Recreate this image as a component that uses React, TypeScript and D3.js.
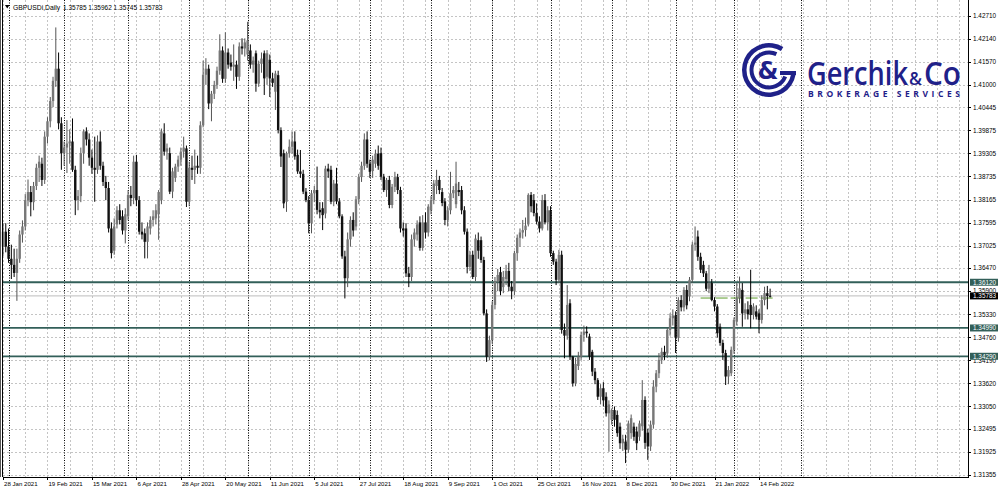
import * as d3 from 'd3'

// daily GBPUSD bars, [open, high, low, close], one per trading day from 28 Jan 2021
const candles: [number, number, number, number][] = [
  [1.3700, 1.3757, 1.3677, 1.3737], [1.3737, 1.3758, 1.3686, 1.3700], [1.3700, 1.3745, 1.3660, 1.3670],
  [1.3670, 1.3705, 1.3620, 1.3655], [1.3655, 1.3695, 1.3625, 1.3635], [1.3635, 1.3695, 1.3566, 1.3670],
  [1.3670, 1.3740, 1.3660, 1.3730], [1.3730, 1.3765, 1.3710, 1.3750], [1.3750, 1.3830, 1.3740, 1.3815],
  [1.3815, 1.3866, 1.3800, 1.3835], [1.3835, 1.3850, 1.3775, 1.3810], [1.3810, 1.3860, 1.3790, 1.3850],
  [1.3850, 1.3905, 1.3840, 1.3895], [1.3895, 1.3925, 1.3860, 1.3910], [1.3905, 1.3920, 1.3850, 1.3865],
  [1.3865, 1.3985, 1.3855, 1.3972], [1.3972, 1.4020, 1.3955, 1.4010], [1.4010, 1.4070, 1.3995, 1.4060],
  [1.4060, 1.4120, 1.4045, 1.4110], [1.4110, 1.4242, 1.4095, 1.4140], [1.4140, 1.4180, 1.3990, 1.4005],
  [1.4005, 1.4020, 1.3890, 1.3931], [1.3931, 1.3960, 1.3900, 1.3945], [1.3945, 1.4013, 1.3882, 1.3955],
  [1.3955, 1.3990, 1.3905, 1.3960], [1.3960, 1.4017, 1.3885, 1.3890], [1.3890, 1.3900, 1.3778, 1.3815],
  [1.3815, 1.3840, 1.3790, 1.3825], [1.3825, 1.3945, 1.3810, 1.3931], [1.3931, 1.3990, 1.3905, 1.3985],
  [1.3985, 1.3995, 1.3950, 1.3965], [1.3965, 1.3980, 1.3900, 1.3920], [1.3920, 1.3940, 1.3880, 1.3895],
  [1.3895, 1.3972, 1.3811, 1.3890], [1.3890, 1.3975, 1.3880, 1.3960], [1.3960, 1.3985, 1.3890, 1.3900],
  [1.3900, 1.3910, 1.3850, 1.3860], [1.3860, 1.3875, 1.3815, 1.3845], [1.3845, 1.3860, 1.3735, 1.3745],
  [1.3745, 1.3760, 1.3671, 1.3684], [1.3690, 1.3770, 1.3680, 1.3750], [1.3755, 1.3800, 1.3745, 1.3790],
  [1.3790, 1.3805, 1.3755, 1.3766], [1.3775, 1.3790, 1.3730, 1.3740], [1.3740, 1.3795, 1.3708, 1.3780],
  [1.3775, 1.3840, 1.3765, 1.3828], [1.3828, 1.3850, 1.3800, 1.3820], [1.3820, 1.3925, 1.3805, 1.3910],
  [1.3910, 1.3927, 1.3800, 1.3815], [1.3815, 1.3825, 1.3730, 1.3737], [1.3737, 1.3760, 1.3718, 1.3730],
  [1.3733, 1.3745, 1.3671, 1.3712], [1.3712, 1.3760, 1.3671, 1.3750], [1.3745, 1.3775, 1.3730, 1.3766],
  [1.3766, 1.3790, 1.3750, 1.3775], [1.3770, 1.3805, 1.3755, 1.3790], [1.3780, 1.3840, 1.3717, 1.3835],
  [1.3815, 1.3992, 1.3805, 1.3985], [1.3980, 1.4005, 1.3925, 1.3935], [1.3935, 1.3955, 1.3915, 1.3943],
  [1.3931, 1.3945, 1.3830, 1.3836], [1.3836, 1.3895, 1.3820, 1.3886], [1.3870, 1.3905, 1.3860, 1.3898],
  [1.3898, 1.3925, 1.3885, 1.3915], [1.3915, 1.3945, 1.3900, 1.3935], [1.3935, 1.3972, 1.3920, 1.3945],
  [1.3943, 1.3950, 1.3798, 1.3811], [1.3811, 1.3910, 1.3800, 1.3895], [1.3895, 1.3925, 1.3865, 1.3890],
  [1.3890, 1.3940, 1.3855, 1.3900], [1.3900, 1.3925, 1.3880, 1.3895], [1.3895, 1.4010, 1.3880, 1.4000],
  [1.4000, 1.4160, 1.3995, 1.4125], [1.4125, 1.4166, 1.4100, 1.4140], [1.4140, 1.4150, 1.4040, 1.4054],
  [1.4054, 1.4085, 1.4010, 1.4078], [1.4078, 1.4110, 1.4065, 1.4100], [1.4100, 1.4145, 1.4090, 1.4135],
  [1.4135, 1.4225, 1.4125, 1.4185], [1.4185, 1.4195, 1.4105, 1.4115], [1.4115, 1.4230, 1.4105, 1.4180],
  [1.4180, 1.4190, 1.4140, 1.4150], [1.4155, 1.4175, 1.4135, 1.4145], [1.4145, 1.4200, 1.4110, 1.4150],
  [1.4150, 1.4160, 1.4090, 1.4120], [1.4120, 1.4205, 1.4110, 1.4195], [1.4195, 1.4215, 1.4175, 1.4190],
  [1.4190, 1.4215, 1.4170, 1.4205], [1.4175, 1.4256, 1.4160, 1.4210], [1.4185, 1.4200, 1.4140, 1.4150],
  [1.4150, 1.4170, 1.4130, 1.4160], [1.4178, 1.4185, 1.4083, 1.4103], [1.4103, 1.4160, 1.4095, 1.4152],
  [1.4152, 1.4180, 1.4130, 1.4165], [1.4178, 1.4185, 1.4075, 1.4116], [1.4120, 1.4186, 1.4100, 1.4178],
  [1.4162, 1.4175, 1.4070, 1.4116], [1.4116, 1.4130, 1.4095, 1.4105], [1.4083, 1.4135, 1.4038, 1.4128],
  [1.4124, 1.4135, 1.3980, 1.3988], [1.3988, 1.3995, 1.3897, 1.3923], [1.3931, 1.3940, 1.3795, 1.3807],
  [1.3811, 1.3935, 1.3786, 1.3931], [1.3931, 1.3965, 1.3920, 1.3947], [1.3947, 1.3985, 1.3930, 1.3960],
  [1.3960, 1.3985, 1.3915, 1.3923], [1.3927, 1.3940, 1.3880, 1.3886], [1.3886, 1.3939, 1.3870, 1.3880],
  [1.3880, 1.3890, 1.3830, 1.3836], [1.3836, 1.3845, 1.3810, 1.3815], [1.3815, 1.3825, 1.3733, 1.3758],
  [1.3758, 1.3840, 1.3733, 1.3832], [1.3832, 1.3850, 1.3810, 1.3840], [1.3840, 1.3898, 1.3780, 1.3791],
  [1.3791, 1.3810, 1.3770, 1.3785], [1.3795, 1.3810, 1.3741, 1.3778], [1.3782, 1.3900, 1.3770, 1.3893],
  [1.3893, 1.3905, 1.3870, 1.3886], [1.3890, 1.3900, 1.3805, 1.3811], [1.3811, 1.3865, 1.3800, 1.3856],
  [1.3856, 1.3895, 1.3805, 1.3812], [1.3812, 1.3820, 1.3770, 1.3775], [1.3775, 1.3780, 1.3670, 1.3676],
  [1.3676, 1.3690, 1.3572, 1.3622], [1.3622, 1.3735, 1.3600, 1.3718], [1.3718, 1.3775, 1.3700, 1.3766],
  [1.3766, 1.3785, 1.3725, 1.3740], [1.3750, 1.3825, 1.3740, 1.3817], [1.3817, 1.3880, 1.3805, 1.3872],
  [1.3872, 1.3910, 1.3860, 1.3900], [1.3900, 1.3980, 1.3890, 1.3965], [1.3965, 1.3985, 1.3895, 1.3905],
  [1.3905, 1.3915, 1.3870, 1.3885], [1.3887, 1.3925, 1.3870, 1.3915], [1.3905, 1.3940, 1.3895, 1.3930],
  [1.3930, 1.3950, 1.3890, 1.3900], [1.3931, 1.3945, 1.3865, 1.3873], [1.3873, 1.3880, 1.3835, 1.3840],
  [1.3840, 1.3870, 1.3823, 1.3865], [1.3865, 1.3875, 1.3795, 1.3803], [1.3803, 1.3855, 1.3795, 1.3848],
  [1.3848, 1.3885, 1.3835, 1.3872], [1.3872, 1.3880, 1.3830, 1.3840], [1.3840, 1.3848, 1.3735, 1.3745],
  [1.3745, 1.3760, 1.3725, 1.3740], [1.3745, 1.3758, 1.3625, 1.3634], [1.3634, 1.3650, 1.3600, 1.3625],
  [1.3625, 1.3730, 1.3615, 1.3718], [1.3718, 1.3745, 1.3700, 1.3735], [1.3730, 1.3765, 1.3715, 1.3755],
  [1.3760, 1.3775, 1.3690, 1.3697], [1.3697, 1.3778, 1.3690, 1.3760], [1.3760, 1.3785, 1.3720, 1.3735],
  [1.3735, 1.3805, 1.3725, 1.3799], [1.3790, 1.3825, 1.3780, 1.3815], [1.3815, 1.3865, 1.3805, 1.3856],
  [1.3850, 1.3890, 1.3830, 1.3865], [1.3865, 1.3875, 1.3830, 1.3840], [1.3835, 1.3845, 1.3800, 1.3808],
  [1.3812, 1.3820, 1.3753, 1.3766], [1.3766, 1.3800, 1.3750, 1.3790], [1.3790, 1.3885, 1.3780, 1.3832],
  [1.3832, 1.3850, 1.3820, 1.3840], [1.3805, 1.3910, 1.3795, 1.3856], [1.3840, 1.3860, 1.3825, 1.3835],
  [1.3840, 1.3850, 1.3780, 1.3790], [1.3790, 1.3800, 1.3730, 1.3737], [1.3737, 1.3745, 1.3634, 1.3650],
  [1.3650, 1.3690, 1.3640, 1.3680], [1.3680, 1.3690, 1.3620, 1.3625], [1.3625, 1.3730, 1.3615, 1.3720],
  [1.3716, 1.3735, 1.3670, 1.3690], [1.3716, 1.3725, 1.3660, 1.3667], [1.3667, 1.3675, 1.3530, 1.3535],
  [1.3535, 1.3545, 1.3415, 1.3428], [1.3428, 1.3480, 1.3419, 1.3469], [1.3469, 1.3565, 1.3460, 1.3556],
  [1.3556, 1.3625, 1.3545, 1.3614], [1.3614, 1.3645, 1.3590, 1.3630], [1.3637, 1.3650, 1.3580, 1.3590],
  [1.3600, 1.3640, 1.3585, 1.3625], [1.3620, 1.3655, 1.3605, 1.3640], [1.3640, 1.3660, 1.3590, 1.3601],
  [1.3601, 1.3615, 1.3570, 1.3590], [1.3590, 1.3690, 1.3580, 1.3684], [1.3684, 1.3730, 1.3665, 1.3722],
  [1.3722, 1.3745, 1.3700, 1.3735], [1.3735, 1.3766, 1.3720, 1.3741], [1.3741, 1.3772, 1.3725, 1.3752],
  [1.3755, 1.3832, 1.3750, 1.3828], [1.3828, 1.3835, 1.3785, 1.3800], [1.3815, 1.3830, 1.3775, 1.3783],
  [1.3783, 1.3807, 1.3755, 1.3762], [1.3762, 1.3775, 1.3735, 1.3745], [1.3745, 1.3828, 1.3740, 1.3815],
  [1.3815, 1.3830, 1.3755, 1.3760], [1.3760, 1.3800, 1.3740, 1.3790], [1.3790, 1.3800, 1.3675, 1.3684],
  [1.3684, 1.3690, 1.3655, 1.3663], [1.3663, 1.3670, 1.3605, 1.3618], [1.3618, 1.3692, 1.3610, 1.3680],
  [1.3680, 1.3690, 1.3485, 1.3494], [1.3494, 1.3510, 1.3424, 1.3480], [1.3480, 1.3605, 1.3470, 1.3556],
  [1.3560, 1.3570, 1.3420, 1.3428], [1.3428, 1.3430, 1.3354, 1.3362], [1.3362, 1.3425, 1.3355, 1.3410],
  [1.3405, 1.3440, 1.3395, 1.3428], [1.3428, 1.3490, 1.3420, 1.3482], [1.3482, 1.3505, 1.3465, 1.3490],
  [1.3490, 1.3503, 1.3475, 1.3486], [1.3478, 1.3485, 1.3420, 1.3428], [1.3440, 1.3445, 1.3380, 1.3391],
  [1.3391, 1.3400, 1.3360, 1.3370], [1.3370, 1.3375, 1.3321, 1.3329], [1.3329, 1.3360, 1.3310, 1.3350],
  [1.3350, 1.3365, 1.3305, 1.3320], [1.3329, 1.3340, 1.3280, 1.3288], [1.3288, 1.3320, 1.3193, 1.3310],
  [1.3272, 1.3300, 1.3260, 1.3296], [1.3296, 1.3305, 1.3255, 1.3272], [1.3284, 1.3295, 1.3230, 1.3239],
  [1.3255, 1.3265, 1.3200, 1.3214], [1.3214, 1.3235, 1.3195, 1.3225], [1.3218, 1.3235, 1.3165, 1.3198],
  [1.3198, 1.3270, 1.3190, 1.3263], [1.3239, 1.3285, 1.3225, 1.3276], [1.3255, 1.3265, 1.3220, 1.3230],
  [1.3243, 1.3255, 1.3197, 1.3214], [1.3230, 1.3270, 1.3220, 1.3263], [1.3256, 1.3370, 1.3245, 1.3321],
  [1.3321, 1.3330, 1.3200, 1.3215], [1.3240, 1.3250, 1.3173, 1.3206], [1.3206, 1.3270, 1.3195, 1.3260],
  [1.3260, 1.3370, 1.3250, 1.3354], [1.3354, 1.3395, 1.3340, 1.3387], [1.3387, 1.3437, 1.3375, 1.3420],
  [1.3420, 1.3450, 1.3410, 1.3440], [1.3440, 1.3455, 1.3420, 1.3432], [1.3436, 1.3500, 1.3425, 1.3494],
  [1.3494, 1.3535, 1.3480, 1.3523], [1.3523, 1.3545, 1.3505, 1.3530], [1.3530, 1.3540, 1.3437, 1.3475],
  [1.3475, 1.3575, 1.3465, 1.3568], [1.3568, 1.3580, 1.3540, 1.3550], [1.3550, 1.3600, 1.3540, 1.3593],
  [1.3593, 1.3605, 1.3545, 1.3555], [1.3577, 1.3625, 1.3565, 1.3618], [1.3618, 1.3712, 1.3610, 1.3705],
  [1.3705, 1.3750, 1.3690, 1.3710], [1.3725, 1.3740, 1.3665, 1.3675], [1.3675, 1.3685, 1.3635, 1.3643],
  [1.3655, 1.3665, 1.3625, 1.3634], [1.3634, 1.3640, 1.3590, 1.3596], [1.3596, 1.3655, 1.3585, 1.3610],
  [1.3610, 1.3620, 1.3565, 1.3568], [1.3568, 1.3575, 1.3540, 1.3552], [1.3552, 1.3558, 1.3475, 1.3486],
  [1.3502, 1.3510, 1.3455, 1.3462], [1.3462, 1.3470, 1.3420, 1.3437], [1.3437, 1.3445, 1.3358, 1.3379],
  [1.3379, 1.3405, 1.3360, 1.3395], [1.3387, 1.3453, 1.3380, 1.3445], [1.3445, 1.3525, 1.3435, 1.3519],
  [1.3515, 1.3610, 1.3505, 1.3573], [1.3573, 1.3626, 1.3560, 1.3597], [1.3593, 1.3610, 1.3502, 1.3535],
  [1.3535, 1.3560, 1.3520, 1.3545], [1.3545, 1.3565, 1.3520, 1.3533], [1.3556, 1.3643, 1.3498, 1.3531],
  [1.3531, 1.3560, 1.3520, 1.3552], [1.3540, 1.3555, 1.3520, 1.3527], [1.3535, 1.3545, 1.3486, 1.3519],
  [1.3519, 1.3580, 1.3510, 1.3568], [1.3568, 1.3601, 1.3555, 1.3585], [1.3585, 1.3603, 1.3545, 1.3578],
  [1.35785, 1.35962, 1.35745, 1.35783],
]

const priceTicks = [
  1.42710, 1.42140, 1.41570, 1.41000, 1.40445, 1.39875, 1.39305, 1.38735, 1.38165, 1.37595, 1.37025,
  1.36470, 1.35900, 1.35330, 1.34760, 1.34190, 1.33620, 1.33050, 1.32495, 1.31925, 1.31355,
]
const dateLabels = [
  '28 Jan 2021', '19 Feb 2021', '15 Mar 2021', '6 Apr 2021', '28 Apr 2021', '20 May 2021', '11 Jun 2021',
  '5 Jul 2021', '27 Jul 2021', '18 Aug 2021', '9 Sep 2021', '1 Oct 2021', '25 Oct 2021', '16 Nov 2021',
  '8 Dec 2021', '30 Dec 2021', '21 Jan 2022', '14 Feb 2022',
]
const dateLabelBars = [0, 16, 32, 48, 64, 80, 96, 112, 128, 144, 160, 176, 192, 208, 224, 240, 256, 272]
const monthStartBars = [2, 22, 45, 67, 88, 110, 132, 154, 176, 197, 219, 242, 263, 287]
const levels = [1.3612, 1.3499, 1.3429]
const levelLabels = ['1.36120', '1.34990', '1.34290']
const bidPrice = 1.35783
const bidLabel = '1.35783'
const greenSegment = { from: 251, to: 278, price: 1.3573 }
const symbolTitle = 'GBPUSDi,Daily'
const headerValues = '1.35785 1.35962 1.35745 1.35783'

const W = 1000
const H = 491
const LEFT = 3
const RIGHT = 968
const BOTTOM = 477
const FONT = 'Liberation Sans, Arial, sans-serif'
const TEAL = '#325f59'
const BLUE = '#1f2189'

const x = d3.scaleLinear().domain([0, 272]).range([3, 759])
const y = d3.scaleLinear().domain([1.31355, 1.4271]).range([475, 15.7])

const snap = (v: number) => Math.round(v) + 0.5

function Logo() {
  const cx = 769
  const cy = 70
  const deg = Math.PI / 180
  const arc = d3.arc<any>()
  const outer = arc({ innerRadius: 22.5, outerRadius: 27, startAngle: 100 * deg, endAngle: 392 * deg }) as string
  const inner = arc({ innerRadius: 15.5, outerRadius: 19.5, startAngle: 112 * deg, endAngle: 385 * deg }) as string
  return (
    <g fill={BLUE}>
      <g transform={`translate(${cx},${cy})`}>
        <path d={outer} />
        <path d={inner} />
        <rect x={11} y={1} width={16} height={4} />
        <text x={-1} y={9} textAnchor="middle" fontFamily="DejaVu Sans, sans-serif" fontWeight={700} fontSize={24}>&amp;</text>
      </g>
      <text y={85} fontFamily="Open Sans, Noto Sans, sans-serif" fontWeight={600} fontSize={32}>
        <tspan x={807} textLength={101} lengthAdjust="spacingAndGlyphs">Gerchik</tspan>
        <tspan x={909} fontSize={18} textLength={13} lengthAdjust="spacingAndGlyphs">&amp;</tspan>
        <tspan x={924} textLength={37} lengthAdjust="spacingAndGlyphs">Co</tspan>
      </text>
      <text x={808} y={97} fontFamily="Open Sans, Noto Sans, sans-serif" fontWeight={700} fontSize={8.5}
        textLength={152} lengthAdjust="spacing">BROKERAGE SERVICES</text>
    </g>
  )
}

export default function App() {
  const gridBars = d3.range(0, 360, 8).filter((b) => x(b) < RIGHT - 2)

  return (
    <svg width={W} height={H} style={{ position: 'absolute', left: 0, top: 0, background: '#fff' }}
      fontFamily={FONT}>
      <rect width={W} height={H} fill="#fff" />

      {/* light grid */}
      {priceTicks.map((p) => (
        <line key={'h' + p} x1={LEFT} x2={RIGHT} y1={snap(y(p))} y2={snap(y(p))}
          stroke="#c4c4c4" strokeDasharray="2,2" />
      ))}
      {gridBars.map((b) => (
        <line key={'v' + b} x1={snap(x(b))} x2={snap(x(b))} y1={0} y2={BOTTOM}
          stroke="#c4c4c4" strokeDasharray="2,2" />
      ))}

      {/* month separators */}
      {monthStartBars.map((b) => (
        <line key={'m' + b} x1={snap(x(b))} x2={snap(x(b))} y1={0} y2={BOTTOM}
          stroke="#000" strokeDasharray="1,1.5" />
      ))}

      <Logo />

      {/* bid line */}
      <line x1={LEFT} x2={RIGHT} y1={y(bidPrice)} y2={y(bidPrice)} stroke="#bdbdbd" strokeWidth={1} />

      {/* support / resistance levels */}
      {levels.map((p) => (
        <line key={'l' + p} x1={LEFT} x2={RIGHT} y1={y(p)} y2={y(p)} stroke={TEAL} strokeWidth={1.8} />
      ))}

      <line x1={x(greenSegment.from)} x2={x(greenSegment.to)} y1={y(greenSegment.price)} y2={y(greenSegment.price)}
        stroke="#5c9c2c" strokeWidth={1} strokeDasharray="12,3" />

      {/* candles */}
      {candles.map(([o, h, l, c], i) => {
        const bull = c >= o
        const cxp = x(i)
        const top = y(Math.max(o, c))
        const bh = Math.max(1, y(Math.min(o, c)) - top)
        return (
          <g key={i}>
            <line x1={cxp} x2={cxp} y1={y(h)} y2={y(l)} stroke={bull ? '#555' : '#000'} strokeWidth={1} />
            <rect x={cxp - 1.2} y={top} width={2.4} height={bh} fill={bull ? '#777' : '#111'} />
          </g>
        )
      })}

      {/* frame */}
      <line x1={0.5} x2={0.5} y1={0} y2={BOTTOM} stroke="#555" />
      <line x1={2.5} x2={2.5} y1={0} y2={BOTTOM} stroke="#000" />
      <line x1={RIGHT + 0.5} x2={RIGHT + 0.5} y1={0} y2={BOTTOM + 1} stroke="#000" />
      <line x1={LEFT} x2={RIGHT} y1={BOTTOM + 0.5} y2={BOTTOM + 0.5} stroke="#000" />

      {/* price axis */}
      {priceTicks.map((p) => (
        <g key={'t' + p}>
          <line x1={RIGHT} x2={RIGHT + 3} y1={snap(y(p))} y2={snap(y(p))} stroke="#000" />
          <text x={RIGHT + 5} y={y(p) + 2.3} fontSize={6.4} fill="#000">{p.toFixed(5)}</text>
        </g>
      ))}
      {levels.map((p, i) => (
        <g key={'lb' + p}>
          <rect x={RIGHT + 2} y={y(p) - 3.5} width={28} height={7} fill={TEAL} />
          <text x={RIGHT + 5} y={y(p) + 2.3} fontSize={6.4} fill="#fff">{levelLabels[i]}</text>
        </g>
      ))}
      <rect x={RIGHT + 2} y={y(bidPrice) - 3.5} width={28} height={7} fill="#000" />
      <text x={RIGHT + 5} y={y(bidPrice) + 2.3} fontSize={6.4} fill="#fff">{bidLabel}</text>

      {/* time axis */}
      {dateLabelBars.map((b, i) => (
        <g key={'d' + b}>
          <line x1={snap(x(b))} x2={snap(x(b))} y1={BOTTOM} y2={BOTTOM + 3} stroke="#000" />
          <text x={x(b) + 1} y={486} fontSize={6.1} fill="#000">{dateLabels[i]}</text>
        </g>
      ))}

      {/* header */}
      <path d="M5,5 L9.5,5 L7.25,8.5 Z" fill="#000" />
      <text x={13} y={10} fontSize={6.8} fill="#000">{symbolTitle}</text>
      <text x={63} y={10} fontSize={6.5} fill="#000">{headerValues}</text>
    </svg>
  )
}
